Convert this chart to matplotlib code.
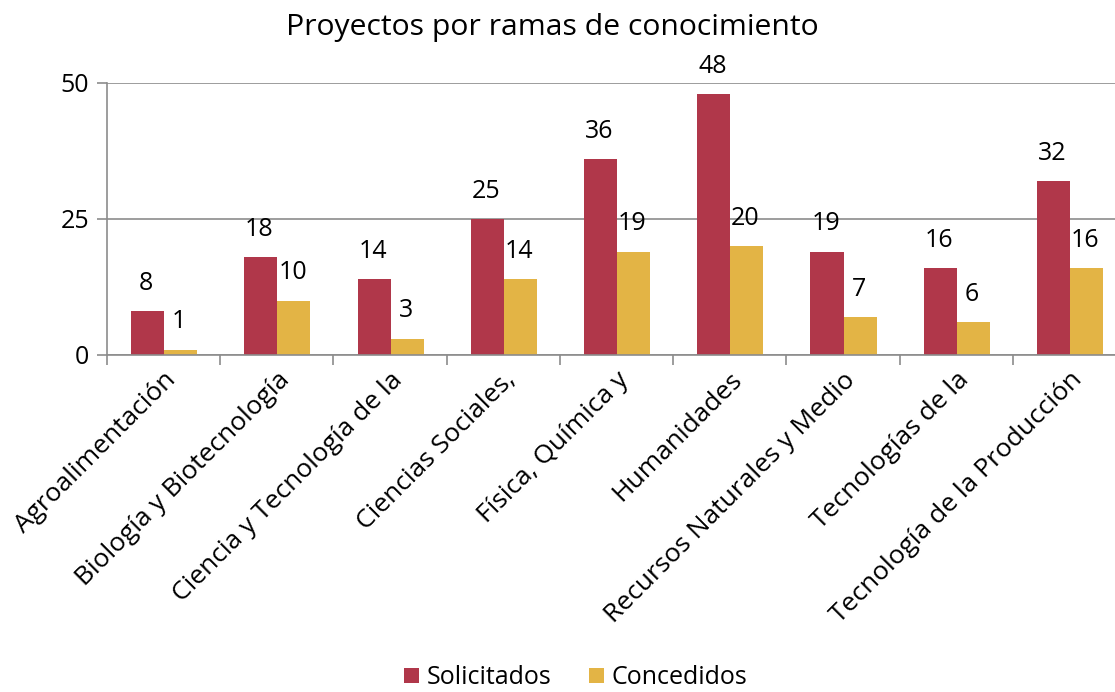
import numpy as np
import matplotlib.pyplot as plt

categorias = ["Agroalimentación", "Biología y Biotecnología", "Ciencia y Tecnología de la",
              "Ciencias Sociales,", "Física, Química y", "Humanidades",
              "Recursos Naturales y Medio", "Tecnologías de la", "Tecnología de la Producción"]
solicitados = [8, 18, 14, 25, 36, 48, 19, 16, 32]
concedidos = [1, 10, 3, 14, 19, 20, 7, 6, 16]

plt.rcParams['font.family'] = ['Open Sans', 'DejaVu Sans']

fig = plt.figure(figsize=(11.15, 6.92), dpi=100)
# el eje se sale un poco por la derecha, como en el original
ax = fig.add_axes([107 / 1115, 337 / 692, 1019 / 1115, 272 / 692])

x = np.arange(len(categorias))
w = 0.292
rojo = "#B0374A"
amarillo = "#E3B445"
b1 = ax.bar(x - w / 2 + 0.005, solicitados, w, color=rojo, label="Solicitados")
b2 = ax.bar(x + w / 2 + 0.005, concedidos, w, color=amarillo, label="Concedidos")

for bars in (b1, b2):
    for b in bars:
        ax.annotate(str(int(b.get_height())), (b.get_x() + b.get_width() / 2, b.get_height()),
                    xytext=(-1, 20), textcoords="offset points", ha="center", va="center",
                    fontsize=18)

ax.set_xlim(-0.5, len(categorias) - 0.5)
ax.set_ylim(0, 50)
ax.set_yticks([0, 25, 50])
ax.yaxis.grid(True, color="#8c8c8c", linewidth=1.2)
ax.set_axisbelow(True)
ax.tick_params(axis="y", labelsize=18, length=7, color="#8c8c8c", width=1.2, pad=6)
ax.set_xticks(np.arange(len(categorias) + 1) - 0.5, minor=False)
ax.set_xticklabels([])
ax.set_xticks(x, minor=True)
ax.set_xticklabels(categorias, minor=True, rotation=45, ha="right", rotation_mode="anchor",
                   fontsize=19)
ax.tick_params(axis="x", which="major", length=7, color="#8c8c8c", width=1.2)
ax.tick_params(axis="x", which="minor", length=0, pad=9)
for s in ["top", "right"]:
    ax.spines[s].set_visible(False)
for s in ["left", "bottom"]:
    ax.spines[s].set_color("#8c8c8c")
    ax.spines[s].set_linewidth(1.2)

fig.suptitle("Proyectos por ramas de conocimiento", fontsize=21.7, x=0.495, y=1 - 28 / 692,
             va="center")
fig.legend(loc="lower center", bbox_to_anchor=(0.516, -0.03), ncol=2, frameon=False,
           fontsize=18, handlelength=0.6, handleheight=0.6, handletextpad=0.3, columnspacing=1.5)

fig.savefig("out.png", dpi=100)
